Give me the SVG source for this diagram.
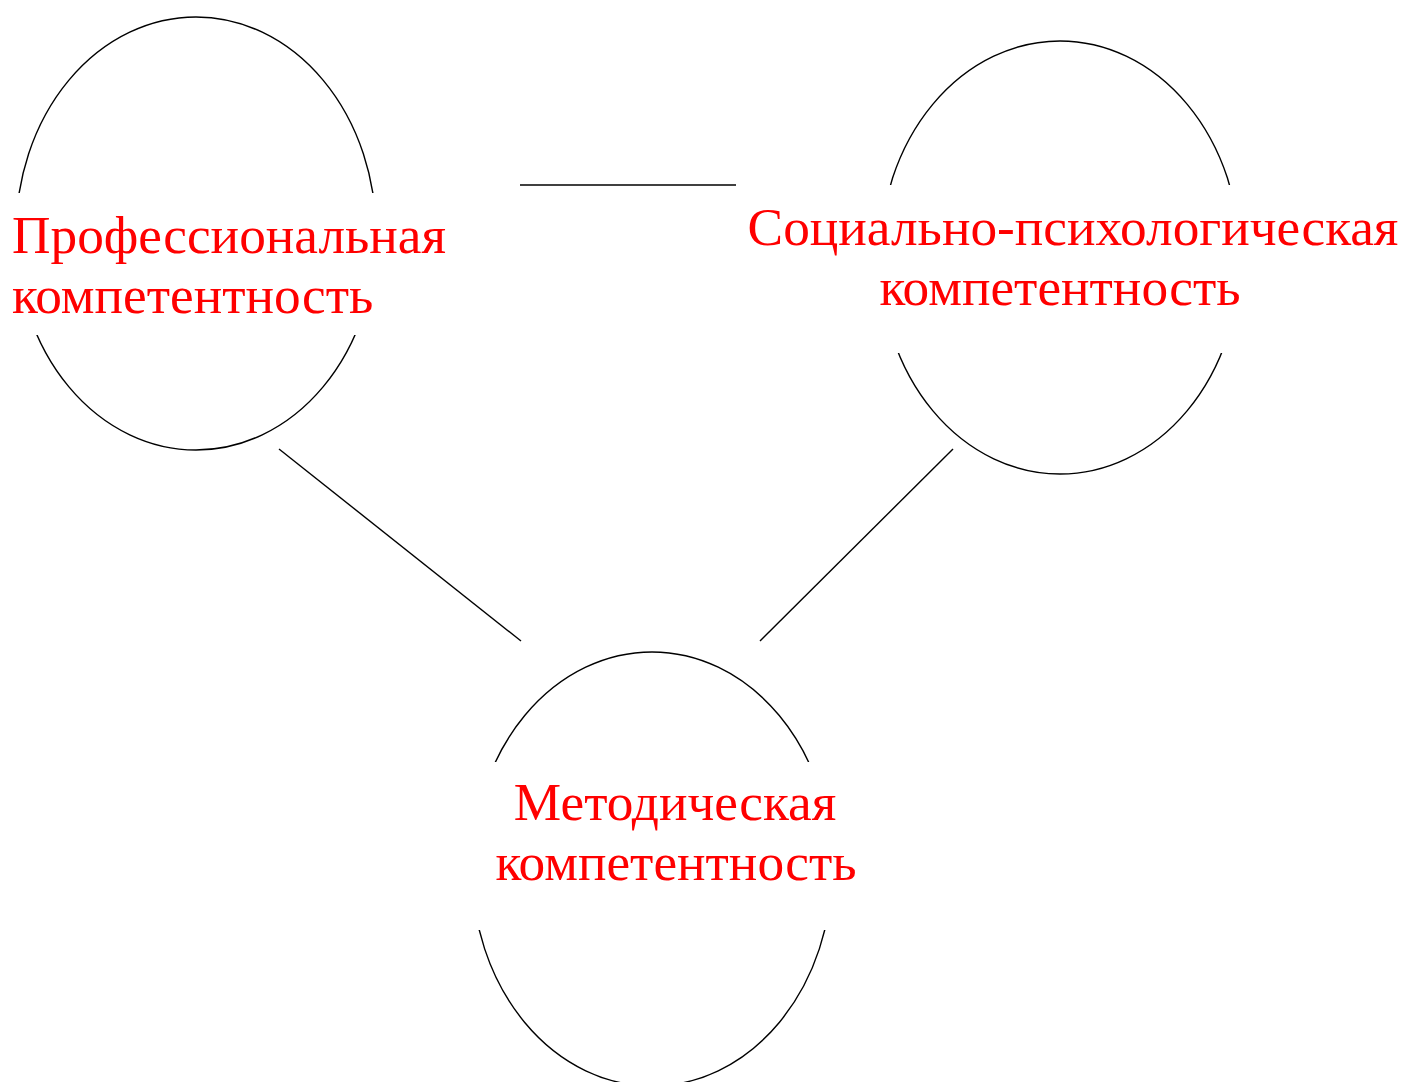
<svg xmlns="http://www.w3.org/2000/svg" width="1404" height="1082" viewBox="0 0 1404 1082">
<style>
.ell{fill:none;stroke:#000;stroke-width:1.4}
.mask{fill:#fff;stroke:none}
.lbl{font-family:"Liberation Serif","Times New Roman",serif;font-size:53.3px;fill:#ff0000}
.con{stroke:#000;stroke-width:1.4;fill:none}
</style>
<rect width="1404" height="1082" fill="#fff"/>
<g id="connectors">
<line class="con" x1="520" y1="185" x2="736" y2="185"/>
<line class="con" x1="279" y1="449" x2="521" y2="641"/>
<line class="con" x1="953" y1="449" x2="760" y2="641"/>
</g>
<g id="node-professional">
<ellipse class="ell" cx="196" cy="233.5" rx="180" ry="216.5"/>
<rect class="mask" x="0" y="193" width="450" height="142"/>
<text class="lbl" x="12" y="253">Профессиональная</text>
<text class="lbl" x="12" y="313">компетентность</text>
</g>
<g id="node-social">
<ellipse class="ell" cx="1060" cy="257.5" rx="180" ry="216.5"/>
<rect class="mask" x="740" y="185" width="664" height="168"/>
<text class="lbl" x="1073" y="245" text-anchor="middle">Социально-психологическая</text>
<text class="lbl" x="1060" y="305" text-anchor="middle">компетентность</text>
</g>
<g id="node-methodical">
<ellipse class="ell" cx="652" cy="869" rx="180" ry="217"/>
<rect class="mask" x="470" y="762" width="400" height="168"/>
<text class="lbl" x="675" y="820" text-anchor="middle">Методическая</text>
<text class="lbl" x="676" y="880" text-anchor="middle">компетентность</text>
</g>
</svg>
